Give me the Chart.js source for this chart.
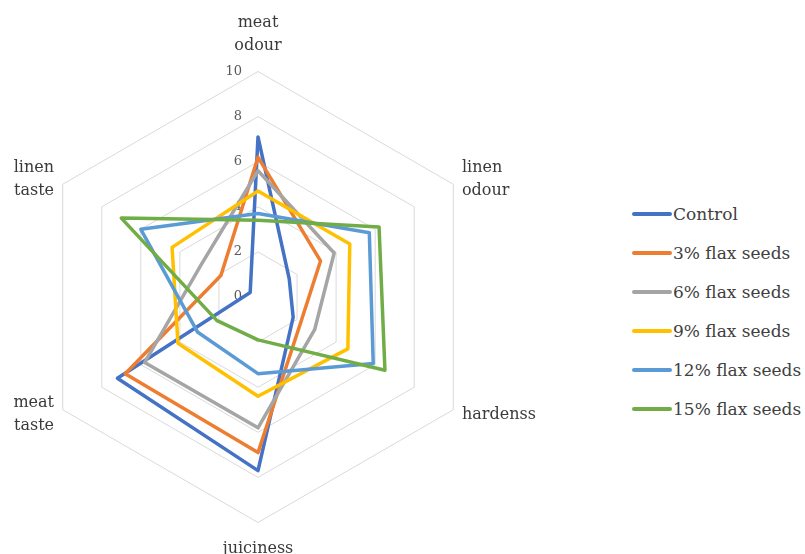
<!DOCTYPE html>
<html lang="en">
<head>
  <meta charset="UTF-8" />
  <title>Sensory profile – flax seeds</title>
  <script src="https://cdn.jsdelivr.net/npm/chart.js"></script>
  <style>
    html, body { margin: 0; padding: 0; background: #fff; overflow: hidden; width: 805px; height: 554px; }
    #wrap { position: relative; width: 805px; height: 554px; overflow: hidden; }
    #chart { position: absolute; left: -12px; top: 0; }
    #legend { position: absolute; left: 632px; top: 194px; font-family: "DejaVu Serif", serif; font-size: 17px; color: #404040; }
    .item { display: flex; align-items: center; height: 39px; white-space: nowrap; }
    .swatch { width: 40px; height: 4px; border-radius: 2px; margin-right: 1px; }
  </style>
</head>
<body>
  <div id="wrap">
    <canvas id="chart" width="580" height="572"></canvas>
    <div id="legend"></div>
  </div>

  <script>
    // axes, clockwise from the top
    const categories = [['meat', 'odour'], ['linen', 'odour'], 'hardenss', 'juiciness', ['meat', 'taste'], ['linen', 'taste']];
    const tickValues = [0, 2, 4, 6, 8, 10];

    const seriesNames = ['Control', '3% flax seeds', '6% flax seeds', '9% flax seeds', '12% flax seeds', '15% flax seeds'];
    const control = [7.1, 1.6, 1.8, 7.7, 7.2, 0.4];
    const flax3   = [6.2, 3.2, 2.2, 6.9, 6.8, 1.9];
    const flax6   = [5.6, 3.9, 2.9, 5.8, 5.8, 2.9];
    const flax9   = [4.7, 4.7, 4.6, 4.4, 4.1, 4.4];
    const flax12  = [3.7, 5.7, 5.9, 3.4, 3.1, 6.0];
    const flax15  = [3.4, 6.2, 6.5, 1.9, 2.1, 7.0];

    const colors = ['#4472C4', '#ED7D31', '#A5A5A5', '#FFC000', '#5B9BD5', '#70AD47'];
    const allSeries = [control, flax3, flax6, flax9, flax12, flax15];

    const labelColor = '#3a3a3a';
    const labelFont = '16px "DejaVu Serif"';
    const lineH = 23;

    // tick numbers sit left of the vertical axis, "0" included
    const tickLabels = {
      id: 'tickLabels',
      beforeDatasetsDraw(chart) {
        const r = chart.scales.r;
        const ctx = chart.ctx;
        ctx.save();
        ctx.font = '13px "DejaVu Serif"';
        ctx.fillStyle = '#595959';
        ctx.textAlign = 'right';
        ctx.textBaseline = 'middle';
        tickValues.forEach(v => {
          ctx.fillText(String(v), r.xCenter - 16, r.yCenter - r.getDistanceFromCenterForValue(v));
        });
        ctx.restore();
      }
    };

    // side labels: vertically centred on their axis end, as in Excel
    const sideLabels = {
      id: 'sideLabels',
      afterDraw(chart) {
        const r = chart.scales.r;
        const ctx = chart.ctx;
        ctx.save();
        ctx.font = labelFont;
        ctx.fillStyle = labelColor;
        ctx.textBaseline = 'middle';
        categories.forEach((lab, i) => {
          if (i % 3 === 0) return;
          const lines = Array.isArray(lab) ? lab : [lab];
          const p = r.getPointPosition(i, r.drawingArea + 10);
          ctx.textAlign = p.x > r.xCenter ? 'left' : 'right';
          const y0 = p.y - (lines.length - 1) * lineH / 2;
          lines.forEach((t, k) => ctx.fillText(t, p.x, y0 + k * lineH));
        });
        ctx.restore();
      }
    };

    const chart = new Chart(document.getElementById('chart'), {
      type: 'radar',
      data: {
        labels: categories,
        datasets: allSeries.map((vals, i) => ({
          label: seriesNames[i],
          data: vals,
          borderColor: colors[i],
          backgroundColor: colors[i],
          borderWidth: 3.5,
          borderJoinStyle: 'round',
          fill: false,
          pointRadius: 0,
          pointHoverRadius: 0,
          order: allSeries.length - i   // later series on top, like the original
        }))
      },
      options: {
        responsive: false,
        animation: false,
        layout: { padding: 0 },
        plugins: {
          legend: { display: false },
          tooltip: { enabled: false }
        },
        scales: {
          r: {
            min: 0,
            max: 10,
            ticks: { stepSize: 2, display: false },
            angleLines: { display: false },
            grid: { color: '#d9d9d9', lineWidth: 1 },
            pointLabels: {
              font: { family: 'DejaVu Serif', size: 16, lineHeight: lineH + 'px' },
              // top and bottom drawn by Chart.js, the four side ones by sideLabels
              color: c => (c.index % 3 === 0 ? labelColor : 'rgba(0,0,0,0)'),
              padding: 14.5
            }
          }
        }
      },
      plugins: [tickLabels, sideLabels]
    });

    // legend built from the datasets
    const legend = document.getElementById('legend');
    chart.data.datasets.forEach(ds => {
      const row = document.createElement('div');
      row.className = 'item';
      row.innerHTML = `<span class="swatch" style="background:${ds.borderColor}"></span><span>${ds.label}</span>`;
      legend.appendChild(row);
    });
  </script>
</body>
</html>
